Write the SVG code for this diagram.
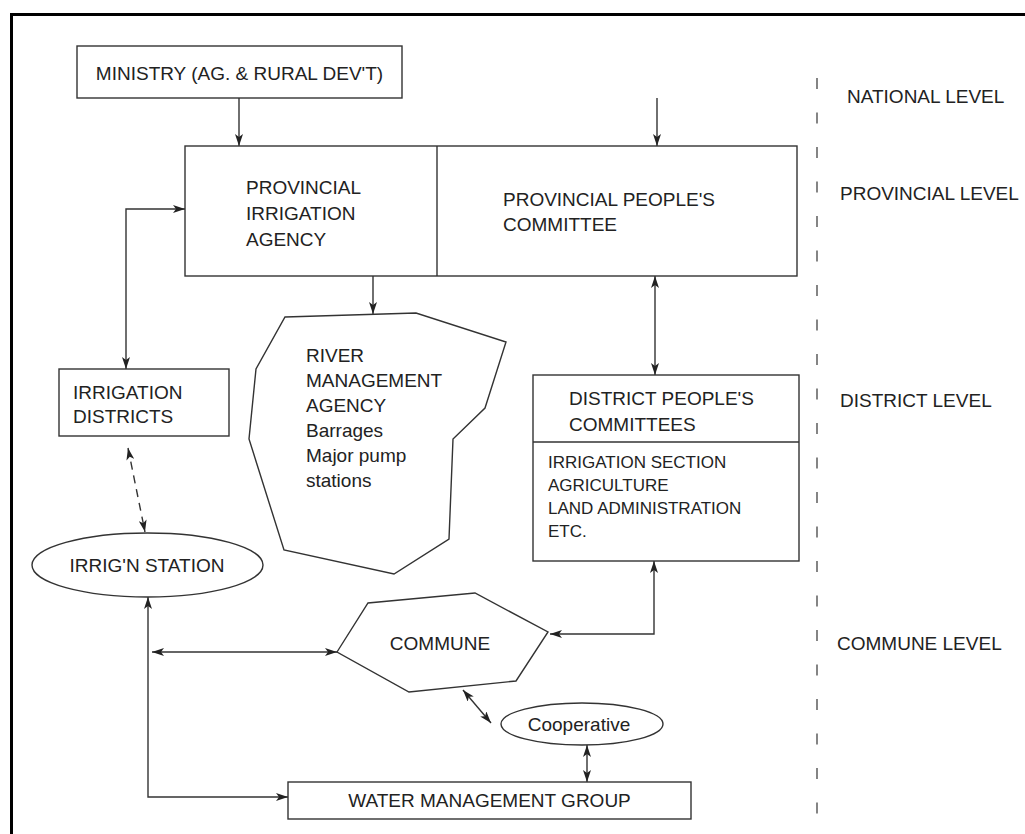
<svg xmlns="http://www.w3.org/2000/svg" width="1025" height="834" viewBox="0 0 1025 834">
<style>
  .t { font-family: "Liberation Sans", Arial, sans-serif; font-size: 19px; fill: #222; }
  .s { font-family: "Liberation Sans", Arial, sans-serif; font-size: 17px; fill: #222; }
  .box { fill: #fff; stroke: #333; stroke-width: 1.4; }
  .ln { fill: none; stroke: #333; stroke-width: 1.4; }
  .dash { fill: none; stroke: #333; stroke-width: 1.4; stroke-dasharray: 8 6; }
  .lvl { fill: none; stroke: #444; stroke-width: 1.3; stroke-dasharray: 11 23.5; }
</style>
<defs>
  <marker id="ah" viewBox="0 0 12 8" refX="12" refY="4" markerWidth="12" markerHeight="8" markerUnits="userSpaceOnUse" orient="auto-start-reverse">
    <path d="M0,0 L12,4 L0,8 L3,4 z" fill="#222"/>
  </marker>
</defs>
<rect width="1025" height="834" fill="#fff"/>
<rect x="11.5" y="14.5" width="1030" height="830" fill="none" stroke="#000" stroke-width="3"/>

<g id="connectors">
  <line class="ln" x1="239" y1="98" x2="239" y2="146" marker-end="url(#ah)"/>
  <line class="ln" x1="657" y1="98" x2="657" y2="146" marker-end="url(#ah)"/>
  <path class="ln" d="M185,209 L126,209 L126,369" marker-start="url(#ah)" marker-end="url(#ah)"/>
  <line class="ln" x1="373" y1="276" x2="373" y2="314" marker-end="url(#ah)"/>
  <line class="ln" x1="655" y1="276" x2="655" y2="375" marker-start="url(#ah)" marker-end="url(#ah)"/>
  <line class="dash" x1="128" y1="448" x2="145" y2="532" marker-start="url(#ah)" marker-end="url(#ah)"/>
  <path class="ln" d="M654,561 L654,634 L550,634" marker-start="url(#ah)" marker-end="url(#ah)"/>
  <line class="ln" x1="152" y1="652" x2="337" y2="652" marker-start="url(#ah)" marker-end="url(#ah)"/>
  <path class="ln" d="M148,597 L148,797 L288,797" marker-start="url(#ah)" marker-end="url(#ah)"/>
  <line class="ln" x1="463" y1="690" x2="491" y2="723" marker-start="url(#ah)" marker-end="url(#ah)"/>
  <line class="ln" x1="587" y1="745" x2="587" y2="782" marker-start="url(#ah)" marker-end="url(#ah)"/>
</g>

<g id="ministry">
  <rect class="box" x="77" y="46" width="325" height="52"/>
  <text class="t" x="239.5" y="80" text-anchor="middle">MINISTRY (AG. &amp; RURAL DEV'T)</text>
</g>

<g id="provincial">
  <rect class="box" x="185" y="146" width="612" height="130"/>
  <line class="ln" x1="437" y1="146" x2="437" y2="276"/>
  <text class="t" x="246" y="194">PROVINCIAL</text>
  <text class="t" x="246" y="220">IRRIGATION</text>
  <text class="t" x="246" y="246">AGENCY</text>
  <text class="t" x="503" y="206">PROVINCIAL PEOPLE'S</text>
  <text class="t" x="503" y="231">COMMITTEE</text>
</g>

<g id="irrigation-districts">
  <rect class="box" x="59" y="369" width="170" height="67"/>
  <text class="t" x="73" y="399">IRRIGATION</text>
  <text class="t" x="73" y="423">DISTRICTS</text>
</g>

<g id="river-agency">
  <polygon class="box" points="285,317 416,313 506,342 485,408 453,439 449,539 394,574 284,550 249,439 256,369"/>
  <text class="t" x="306" y="362">RIVER</text>
  <text class="t" x="306" y="387">MANAGEMENT</text>
  <text class="t" x="306" y="412">AGENCY</text>
  <text class="t" x="306" y="437">Barrages</text>
  <text class="t" x="306" y="462">Major pump</text>
  <text class="t" x="306" y="487">stations</text>
</g>

<g id="district-committees">
  <rect class="box" x="533" y="375" width="266" height="186"/>
  <line class="ln" x1="533" y1="442" x2="799" y2="442"/>
  <text class="t" x="569" y="405">DISTRICT PEOPLE'S</text>
  <text class="t" x="569" y="431">COMMITTEES</text>
  <text class="s" x="548" y="468">IRRIGATION SECTION</text>
  <text class="s" x="548" y="491">AGRICULTURE</text>
  <text class="s" x="548" y="514">LAND ADMINISTRATION</text>
  <text class="s" x="548" y="537">ETC.</text>
</g>

<g id="irrig-station">
  <ellipse class="box" cx="147.5" cy="565" rx="115.5" ry="32"/>
  <text class="t" x="147" y="572" text-anchor="middle">IRRIG'N STATION</text>
</g>

<g id="commune">
  <polygon class="box" points="337,652 368,603 475,593 548,632 516,681 409,692"/>
  <text class="t" x="440" y="650" text-anchor="middle">COMMUNE</text>
</g>

<g id="cooperative">
  <ellipse class="box" cx="582" cy="724" rx="81" ry="21"/>
  <text class="t" x="579" y="731" text-anchor="middle">Cooperative</text>
</g>

<g id="water-group">
  <rect class="box" x="288" y="782" width="403" height="37"/>
  <text class="t" x="489.5" y="807" text-anchor="middle">WATER MANAGEMENT GROUP</text>
</g>

<g id="levels">
  <line class="lvl" x1="817" y1="78" x2="817" y2="815"/>
  <text class="t" x="847" y="103">NATIONAL LEVEL</text>
  <text class="t" x="840" y="200">PROVINCIAL LEVEL</text>
  <text class="t" x="840" y="407">DISTRICT LEVEL</text>
  <text class="t" x="837" y="650">COMMUNE LEVEL</text>
</g>
</svg>
